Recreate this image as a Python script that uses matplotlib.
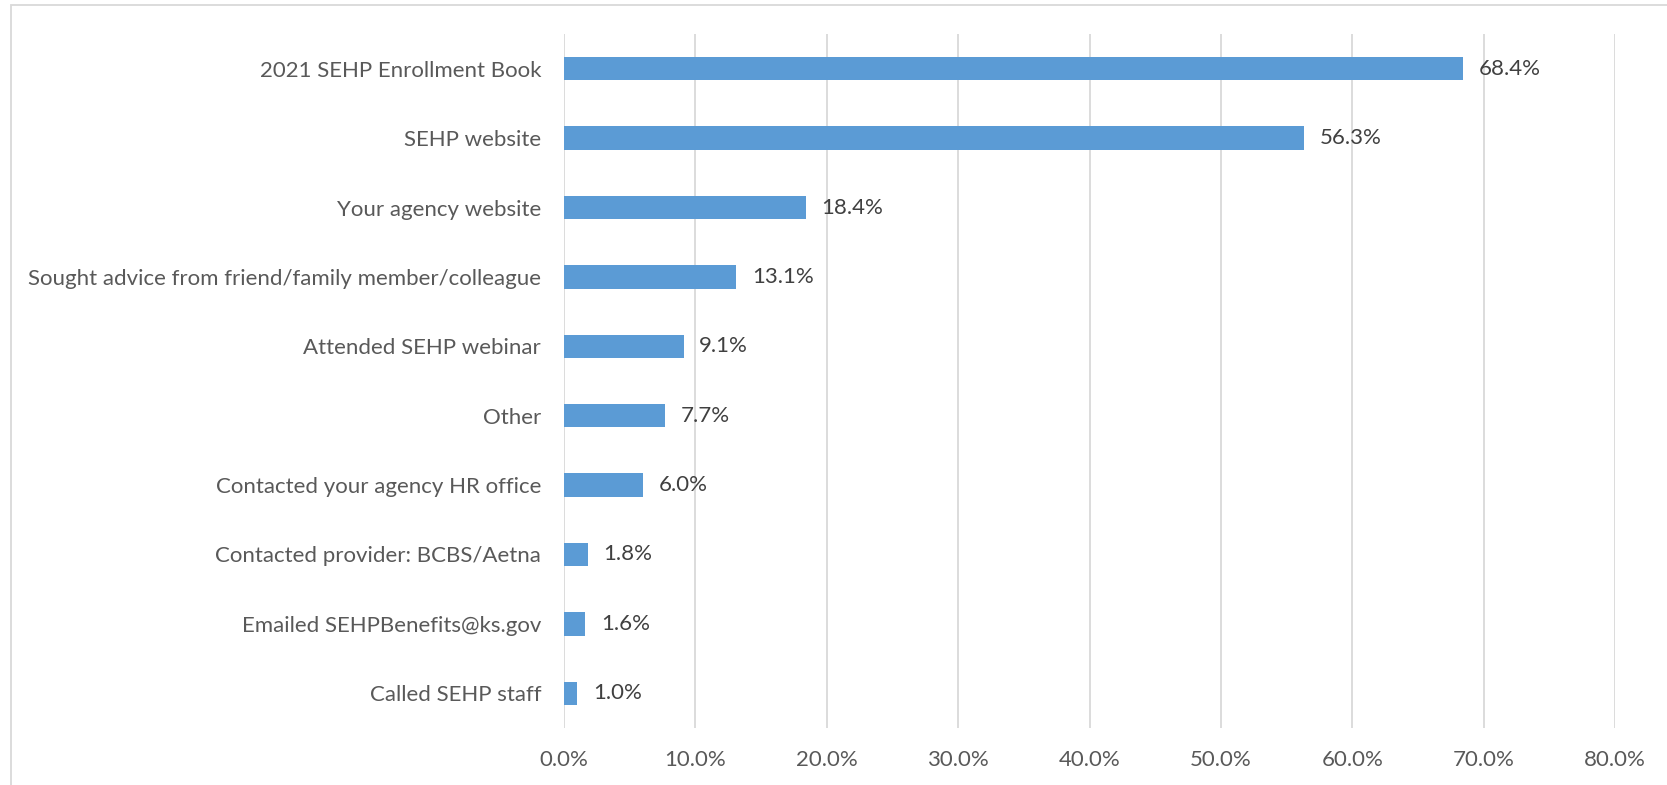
import matplotlib
matplotlib.use("Agg")
import matplotlib.pyplot as plt
from matplotlib.patches import Rectangle
from matplotlib.ticker import FuncFormatter

categories = [
    "2021 SEHP Enrollment Book",
    "SEHP website",
    "Your agency website",
    "Sought advice from friend/family member/colleague",
    "Attended SEHP webinar",
    "Other",
    "Contacted your agency HR office",
    "Contacted provider: BCBS/Aetna",
    "Emailed SEHPBenefits@ks.gov",
    "Called SEHP staff",
]
percents = [68.4, 56.3, 18.4, 13.1, 9.1, 7.7, 6.0, 1.8, 1.6, 1.0]
x_ticks = [0, 10, 20, 30, 40, 50, 60, 70, 80]

plt.rcParams['font.family'] = ['Lato', 'DejaVu Sans']

W, H = 1667, 785
fig = plt.figure(figsize=(W / 100, H / 100), dpi=100)
fig.patch.set_facecolor("white")

# chart frame (only top/left edges fall inside the image)
fig.add_artist(Rectangle((11 / W, -0.1), 1.2, 1 - 5 / H + 0.1, transform=fig.transFigure,
                         fill=False, edgecolor="#D9D9D9", linewidth=1.3))

ax = fig.add_axes([564 / W, 1 - 728 / H, (1615 - 564) / W, (728 - 34) / H])

pos = list(range(len(categories)))
ax.barh(pos, percents, height=0.34, color="#5B9BD5", edgecolor="none", zorder=3)
for y, v in zip(pos, percents):
    ax.text(v + 1.2, y, f"{v:.1f}%", va="center", ha="left", fontsize=16, color="#404040")

ax.set_xlim(0, 80)
ax.set_ylim(len(categories) - 0.5, -0.5)
ax.set_xticks(x_ticks)
ax.xaxis.set_major_formatter(FuncFormatter(lambda v, p: f"{v:.1f}%"))
ax.set_yticks(pos)
ax.set_yticklabels(categories)
ax.grid(axis="x", color="#D9D9D9", linewidth=1.3, zorder=0)
for s in ax.spines.values():
    s.set_visible(False)
ax.tick_params(axis="both", length=0, labelsize=16, labelcolor="#595959")
ax.tick_params(axis="y", pad=16.5)
ax.tick_params(axis="x", pad=16)

fig.savefig("out.png", dpi=100, facecolor="white")
